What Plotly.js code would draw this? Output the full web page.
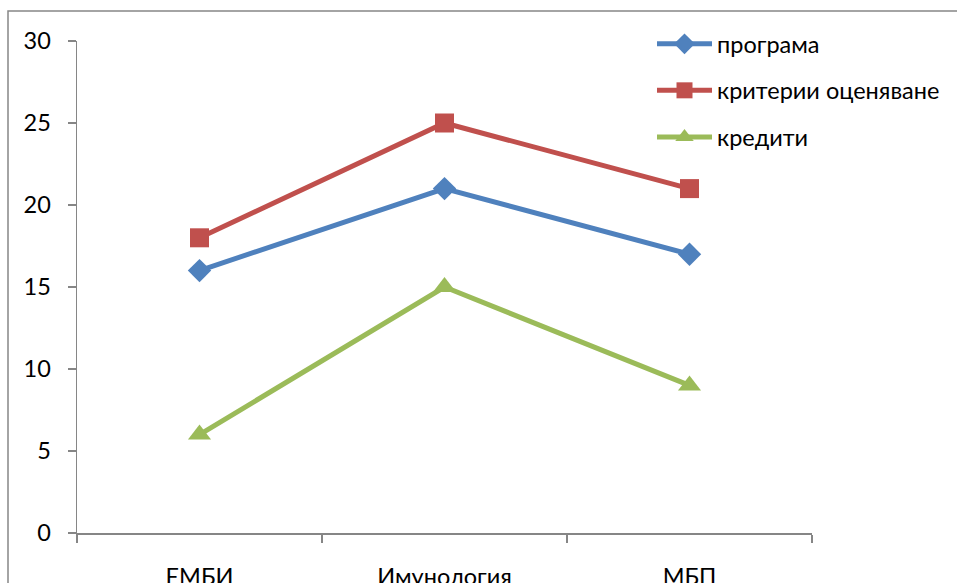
<!DOCTYPE html>
<html>
<head>
<meta charset="utf-8">
<script src="https://cdn.plot.ly/plotly-3.0.1.min.js"></script>
<style>html,body{margin:0;padding:0;background:#fff;}#chart{width:957px;height:583px;}</style>
</head>
<body>
<div id="chart"></div>
<script>
const categories = ["ЕМБИ", "Имунология", "МБП"];
const seriesNames = ["програма", "критерии оценяване", "кредити"];
const programa = [16, 21, 17];
const kriterii = [18, 25, 21];
const krediti = [6, 15, 9];
const yTicks = [0, 5, 10, 15, 20, 25, 30];

const colors = ["#4F81BD", "#C0504D", "#9BBB59"];
const symbols = ["diamond", "square", "triangle-up"];
const sizes = [18, 19, 20];
const values = [programa, kriterii, krediti];

const traces = values.map((v, i) => ({
  x: categories,
  y: v,
  name: seriesNames[i],
  type: "scatter",
  mode: "lines+markers",
  legendgroup: "g" + i,
  line: {color: colors[i], width: 5},
  marker: {symbol: symbols[i], size: sizes[i], color: colors[i], line: {width: 0}}
}));

const L = 77, R = 812, T = 41, B = 533;
const W = R - L, H = B - T;
const px = x => (x - L) / W;
const py = y => (B - y) / H;

const font = "Lato, 'Liberation Sans', sans-serif";
const fs = 23.5;

const layout = {
  width: 957, height: 583,
  margin: {l: L, r: 957 - R, t: T, b: 583 - B, pad: 0},
  paper_bgcolor: "#fff", plot_bgcolor: "#fff",
  font: {family: font, size: fs, color: "#000"},
  showlegend: true,
  legend: {
    x: px(652), y: py(22), xanchor: "left", yanchor: "top",
    bgcolor: "rgba(0,0,0,0)", itemwidth: 55, tracegroupgap: 13,
    font: {family: font, size: fs, color: "#000"}
  },
  xaxis: {
    type: "category", range: [-0.5, 2.5], tickson: "boundaries",
    showline: true, linecolor: "#868686", linewidth: 1.5,
    ticks: "outside", ticklen: 8, tickcolor: "#868686", tickwidth: 1.5,
    showgrid: false, zeroline: false, ticklabelstandoff: 22,
    tickfont: {family: font, size: fs, color: "#000"}
  },
  yaxis: {
    range: [0, 30], tickvals: yTicks, ticktext: yTicks.map(String),
    showline: true, linecolor: "#868686", linewidth: 1.5,
    ticks: "outside", ticklen: 8, tickcolor: "#868686", tickwidth: 1.5,
    showgrid: false, zeroline: false, ticklabelstandoff: 12,
    tickfont: {family: font, size: fs, color: "#000"}
  },
  shapes: [{
    type: "rect", xref: "paper", yref: "paper",
    x0: px(8), x1: px(980), y0: py(600), y1: py(11),
    line: {color: "#878787", width: 1.5}, fillcolor: "rgba(0,0,0,0)", layer: "below"
  }]
};

Plotly.newPlot("chart", traces, layout, {displayModeBar: false, staticPlot: true});
</script>
</body>
</html>
